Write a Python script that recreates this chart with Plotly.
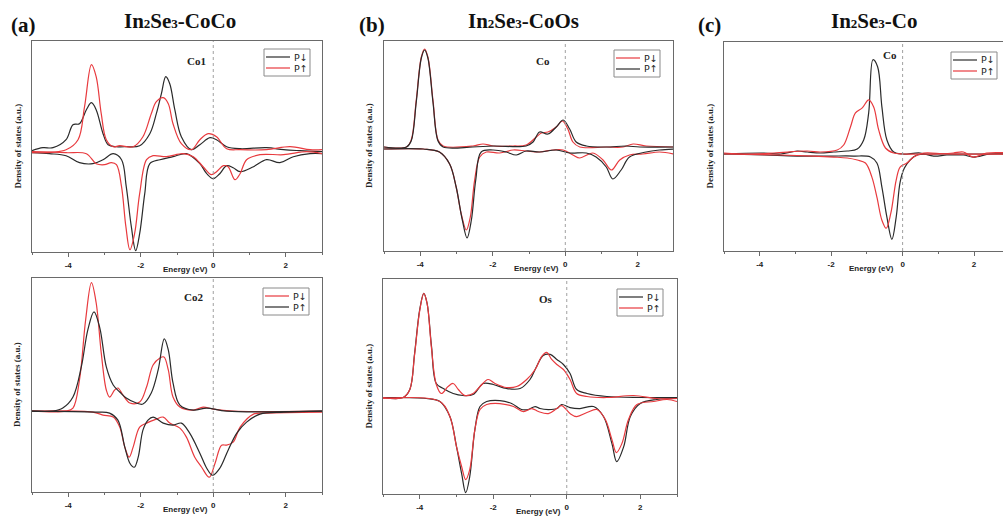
import plotly.graph_objects as go

W, H = 1003, 524

# ---------------- DATA (energy in eV, DOS in arbitrary units) ----------------
# (a) In2Se3-CoCo, Co1
co1_black_up_e = [-5.00,-4.70,-4.42,-4.06,-3.87,-3.69,-3.50,-3.36,-3.23,-3.04,-2.90,-2.67,-2.40,-2.03,-1.75,-1.57,-1.43,-1.31,-1.20,-1.06,-0.88,-0.60,-0.37,-0.09,0.09,0.37,0.74,1.47,1.94,2.40,3.00]
co1_black_up_dos = [1,4,4,12,27,28,42,49,42,18,7,5,5,6,18,38,58,75,68,42,15,2,7,14,12,5,3,4,2,1,0]
co1_red_up_e = [-5.00,-4.06,-3.73,-3.55,-3.36,-3.23,-3.09,-2.95,-2.76,-2.58,-2.21,-1.94,-1.71,-1.57,-1.38,-1.24,-1.11,-0.88,-0.60,-0.37,-0.14,0.09,0.37,0.74,1.47,2.12,2.67,3.00]
co1_red_up_dos = [-1,2,12,45,87,75,38,12,5,6,5,15,38,50,54,48,28,8,2,12,18,15,3,2,2,5,2,2]
co1_black_dn_e = [-5.00,-4.52,-4.06,-3.69,-3.32,-3.04,-2.76,-2.53,-2.40,-2.26,-2.14,-2.03,-1.89,-1.75,-1.47,-1.11,-0.74,-0.37,-0.18,0.00,0.18,0.37,0.55,0.74,1.11,1.47,1.84,2.21,2.67,3.00]
co1_black_dn_dos = [-1,-2,-4,-11,-12,-8,-2,-8,-35,-75,-99,-82,-42,-12,-8,-5,-2,-12,-22,-27,-22,-14,-16,-20,-15,-8,-11,-5,-2,-2]
co1_red_dn_e = [-5.00,-4.06,-3.50,-3.23,-3.00,-2.81,-2.67,-2.53,-2.41,-2.30,-2.17,-2.03,-1.84,-1.66,-1.29,-0.83,-0.55,-0.28,-0.05,0.09,0.28,0.41,0.60,0.74,0.92,1.29,1.94,2.58,3.00]
co1_red_dn_dos = [0,-1,-2,-12,-13,-11,-13,-35,-75,-98,-82,-42,-8,-4,-5,-2,-5,-15,-23,-20,-14,-15,-28,-22,-8,-3,-3,0,-2]

# (a) In2Se3-CoCo, Co2
co2_red_up_e = [-5.00,-4.06,-3.87,-3.69,-3.52,-3.36,-3.23,-3.09,-2.95,-2.86,-2.72,-2.63,-2.49,-2.30,-2.03,-1.84,-1.66,-1.47,-1.36,-1.24,-1.11,-0.92,-0.55,-0.28,0.00,0.55,3.00]
co2_red_up_dos = [0,0,3,31,91,128,108,58,21,14,21,23,16,8,9,24,46,53,54,41,14,4,1,4,2,0,0]
co2_black_up_e = [-5.00,-4.42,-4.15,-3.87,-3.64,-3.46,-3.29,-3.13,-2.95,-2.76,-2.58,-2.40,-2.12,-1.94,-1.71,-1.52,-1.35,-1.24,-1.11,-0.92,-0.55,-0.18,0.37,3.00]
co2_black_up_dos = [0,0,3,14,44,81,99,83,44,26,19,13,8,7,18,41,72,61,28,6,1,3,0,0]
co2_red_dn_e = [-5.00,-3.32,-3.04,-2.76,-2.58,-2.44,-2.32,-2.21,-2.03,-1.84,-1.57,-1.38,-1.20,-0.92,-0.74,-0.51,-0.32,-0.11,0.05,0.23,0.37,0.55,0.74,1.11,1.47,3.00]
co2_red_dn_dos = [0,-1,-4,-6,-16,-36,-46,-36,-16,-12,-8,-6,-12,-17,-26,-46,-56,-66,-52,-34,-34,-31,-16,-3,-2,-1]
co2_black_dn_e = [-5.00,-3.23,-2.86,-2.63,-2.44,-2.30,-2.18,-2.07,-1.94,-1.80,-1.66,-1.38,-1.11,-0.88,-0.65,-0.37,-0.18,-0.02,0.18,0.41,0.65,0.92,1.29,1.94,3.00]
co2_black_dn_dos = [0,-1,-2,-9,-36,-52,-56,-46,-19,-9,-6,-12,-14,-12,-22,-42,-57,-64,-57,-39,-22,-11,-3,-1,0]

# (b) In2Se3-CoOs, Co
cob_red_up_e = [-5.00,-4.38,-4.25,-4.11,-3.97,-3.88,-3.79,-3.65,-3.51,-3.37,-2.55,-2.27,-1.99,-1.44,-1.08,-0.80,-0.66,-0.48,-0.25,-0.08,0.07,0.21,0.40,1.13,1.59,1.87,2.23,3.00]
cob_red_up_dos = [1,1,8,48,91,99,91,48,8,2,2,4,2,2,3,11,15,16,21,27,19,6,1,1,1,4,2,1]
cob_black_up_e = [-5.00,-4.38,-4.25,-4.11,-3.97,-3.88,-3.79,-3.65,-3.51,-3.37,-2.55,-1.99,-1.08,-0.89,-0.71,-0.48,-0.25,-0.06,0.12,0.30,0.58,1.13,1.68,2.05,3.00]
cob_black_up_dos = [1,1,7,46,90,98,90,46,7,1,1,2,2,6,16,14,21,28,19,6,2,1,2,1,1]
cob_red_dn_e = [-5.00,-3.92,-3.47,-3.19,-3.01,-2.87,-2.73,-2.62,-2.50,-2.36,-2.18,-1.81,-1.44,-1.08,-0.71,-0.34,-0.06,0.21,0.40,0.76,1.04,1.27,1.50,1.77,2.14,2.60,3.00]
cob_red_dn_dos = [-1,-1,-4,-16,-39,-66,-82,-69,-32,-9,-4,-5,-2,-3,-4,-2,-2,-7,-10,-5,-12,-22,-12,-7,-6,-4,-6]
cob_black_dn_e = [-5.00,-3.92,-3.47,-3.19,-3.01,-2.84,-2.71,-2.59,-2.47,-2.32,-1.99,-1.63,-1.35,-1.08,-0.71,-0.25,0.12,0.58,0.85,1.13,1.31,1.54,1.77,2.23,2.60,3.00]
cob_black_dn_dos = [-1,-1,-4,-16,-39,-72,-90,-72,-32,-4,-2,-4,-7,-3,-4,-2,-5,-5,-9,-19,-31,-22,-9,-4,-2,-1]

# (b) In2Se3-CoOs, Os
os_black_up_e = [-5.00,-4.45,-4.27,-4.14,-4.00,-3.89,-3.80,-3.68,-3.55,-3.36,-3.09,-2.82,-2.55,-2.27,-2.00,-1.64,-1.27,-1.00,-0.82,-0.64,-0.45,-0.27,-0.09,0.09,0.27,0.55,1.09,2.00,3.00]
os_black_up_dos = [0,0,8,44,88,104,94,51,14,9,4,2,3,14,13,9,9,18,31,42,43,38,33,24,8,4,1,0,0]
os_red_up_e = [-5.00,-4.45,-4.27,-4.14,-4.00,-3.89,-3.80,-3.68,-3.55,-3.41,-3.23,-3.09,-2.95,-2.77,-2.55,-2.36,-2.14,-1.95,-1.64,-1.36,-1.09,-0.86,-0.68,-0.55,-0.41,-0.27,-0.09,0.09,0.27,0.55,1.09,1.82,2.45,3.00]
os_red_up_dos = [0,0,8,43,87,104,94,49,13,4,11,14,8,2,4,11,18,14,10,11,18,28,41,45,38,33,28,18,4,1,0,2,-1,-1]
os_black_dn_e = [-5.00,-3.82,-3.45,-3.18,-3.00,-2.86,-2.75,-2.64,-2.50,-2.36,-2.18,-1.82,-1.50,-1.23,-1.05,-0.86,-0.73,-0.50,-0.27,-0.14,0.09,0.36,0.73,1.00,1.23,1.36,1.55,1.73,2.00,2.45,3.00]
os_black_dn_dos = [0,-1,-4,-19,-49,-76,-95,-79,-32,-9,-4,-3,-6,-12,-12,-9,-11,-12,-11,-7,-10,-11,-9,-19,-46,-64,-49,-19,-6,-2,-1]
os_red_dn_e = [-5.00,-3.45,-3.18,-3.00,-2.86,-2.75,-2.64,-2.50,-2.36,-2.18,-1.82,-1.45,-1.18,-0.95,-0.77,-0.50,-0.27,-0.14,0.09,0.27,0.55,0.82,1.05,1.23,1.35,1.50,1.68,1.91,2.36,2.73,3.00]
os_red_dn_dos = [-1,-4,-19,-49,-69,-82,-72,-32,-12,-7,-6,-9,-14,-11,-14,-16,-11,-8,-16,-19,-15,-12,-22,-42,-55,-46,-22,-7,-4,-2,-4]

# (c) In2Se3-Co, Co
coc_black_up_e = [-5.00,-3.88,-3.41,-2.95,-2.67,-2.30,-1.93,-1.55,-1.27,-1.09,-0.95,-0.83,-0.70,-0.58,-0.44,-0.25,0.00,0.49,0.87,1.24,1.70,1.98,2.45,3.00]
coc_black_up_dos = [0,1,0,3,2,1,2,3,5,14,41,94,87,47,14,2,0,1,-2,-1,-1,-3,0,0]
coc_red_up_e = [-5.00,-4.34,-3.60,-2.67,-2.30,-1.83,-1.65,-1.46,-1.32,-1.13,-0.95,-0.81,-0.67,-0.48,-0.25,0.00,0.49,1.05,1.42,1.70,1.98,2.35,3.00]
coc_red_up_dos = [1,0,1,3,2,4,9,27,41,46,54,47,24,6,1,0,0,0,1,2,-3,1,1]
coc_black_dn_e = [-5.00,-3.88,-2.95,-2.02,-1.37,-0.90,-0.72,-0.58,-0.44,-0.30,-0.18,-0.07,0.05,0.21,0.40,0.77,1.24,3.00]
coc_black_dn_dos = [0,-1,-2,-2,-2,-3,-9,-33,-63,-85,-63,-28,-14,-6,-1,0,0,0]
coc_red_dn_e = [-5.00,-3.41,-2.49,-1.93,-1.55,-1.27,-1.04,-0.86,-0.72,-0.58,-0.46,-0.33,-0.18,-0.07,0.12,0.31,0.59,1.24,3.00]
coc_red_dn_dos = [0,-1,-2,-3,-4,-6,-9,-23,-43,-66,-74,-59,-26,-13,-9,-3,1,0,0]

x_tick_vals = [-4, -2, 0, 2]
x_tick_text = ["-4", "-2", "0", "2"]
minor_tick_vals = [-5, -3, -1, 1, 3]
legend_labels = ["P↓", "P↑"]

# ---------------- STYLE / LAYOUT ----------------
BLACK = "#2a2a2a"
RED = "#e83a3e"
FRAME = "#6a6a6a"
SERIF = "Liberation Serif"
SANS = "Liberation Sans"

# panel boxes in pixels: left, top, right, bottom ; legend box: right, top
panels = [
    dict(name="Co1", box=(32, 41, 322, 252), xr=[-5, 3], yr=[-100.3, 110.7],
         lab=(196, 61), leg=(310, 49),
         curves=[(BLACK, co1_black_up_e, co1_black_up_dos, co1_black_dn_e, co1_black_dn_dos),
                 (RED, co1_red_up_e, co1_red_up_dos, co1_red_dn_e, co1_red_dn_dos)]),
    dict(name="Co2", box=(32, 278, 322, 492), xr=[-5, 3], yr=[-80.7, 132.7],
         lab=(193, 297), leg=(309, 288),
         curves=[(RED, co2_red_up_e, co2_red_up_dos, co2_red_dn_e, co2_red_dn_dos),
                 (BLACK, co2_black_up_e, co2_black_up_dos, co2_black_dn_e, co2_black_dn_dos)]),
    dict(name="Co", box=(384, 41, 673, 251), xr=[-5, 2.97], yr=[-103, 107],
         lab=(543, 61), leg=(660, 50),
         curves=[(RED, cob_red_up_e, cob_red_up_dos, cob_red_dn_e, cob_red_dn_dos),
                 (BLACK, cob_black_up_e, cob_black_up_dos, cob_black_dn_e, cob_black_dn_dos)]),
    dict(name="Os", box=(383, 279, 677, 494), xr=[-5, 3], yr=[-96.3, 118.3],
         lab=(546, 299), leg=(663, 289),
         curves=[(BLACK, os_black_up_e, os_black_up_dos, os_black_dn_e, os_black_dn_dos),
                 (RED, os_red_up_e, os_red_up_dos, os_red_dn_e, os_red_dn_dos)]),
    dict(name="Co", box=(724, 42, 1003, 251), xr=[-5, 2.81], yr=[-96.7, 111.7],
         lab=(890, 55), leg=(997, 52),
         curves=[(BLACK, coc_black_up_e, coc_black_up_dos, coc_black_dn_e, coc_black_dn_dos),
                 (RED, coc_red_up_e, coc_red_up_dos, coc_red_dn_e, coc_red_dn_dos)]),
]

fig = go.Figure()
layout = dict(width=W, height=H, margin=dict(l=0, r=0, t=0, b=0),
              paper_bgcolor="white", plot_bgcolor="white", showlegend=False)
annotations = []
shapes = []


def px(x):
    return x / W


def py(y):
    return 1 - y / H


for i, p in enumerate(panels):
    k = "" if i == 0 else str(i + 1)
    l, t, r, b = p["box"]
    layout[f"xaxis{k}"] = dict(
        domain=[px(l), px(r)], range=p["xr"], anchor=f"y{k}",
        showgrid=False, zeroline=False, showline=True, mirror=True,
        linecolor=FRAME, linewidth=1,
        tickmode="array", tickvals=x_tick_vals, ticktext=x_tick_text,
        ticks="outside", ticklen=4, tickwidth=1, tickcolor=FRAME,
        minor=dict(tickmode="array", tickvals=minor_tick_vals, ticks="outside",
                   ticklen=2, tickcolor=FRAME),
        tickfont=dict(family=SANS, size=8, color="#222", weight="bold"),
        ticklabelstandoff=1,
    )
    layout[f"yaxis{k}"] = dict(
        domain=[py(b), py(t)], range=p["yr"], anchor=f"x{k}",
        showgrid=False, zeroline=False, showline=True, mirror=True,
        linecolor=FRAME, linewidth=1, showticklabels=False, ticks="",
    )
    for j, (color, ue, ud, de, dd) in enumerate(p["curves"]):
        fig.add_trace(go.Scatter(
            x=list(ue) + [None] + list(de),
            y=list(ud) + [None] + list(dd),
            mode="lines", name=legend_labels[j],
            line=dict(color=color, width=1.2, shape="spline", smoothing=1.0),
            connectgaps=False,
            xaxis=f"x{k}", yaxis=f"y{k}",
        ))
    # Fermi level
    shapes.append(dict(type="line", xref=f"x{k}", yref=f"y{k} domain",
                       x0=0, x1=0, y0=0, y1=1,
                       line=dict(color="#a0a0a0", width=1, dash="dot")))
    # legend box (compact, as in the figure)
    R, T = p["leg"]
    shapes.append(dict(type="rect", xref="paper", yref="paper",
                       x0=px(R - 46), x1=px(R), y0=py(T + 27), y1=py(T),
                       line=dict(color="#8a8a8a", width=1), fillcolor="white"))
    for j, (color, *_rest) in enumerate(p["curves"]):
        yy = T + 8 + 11 * j
        shapes.append(dict(type="line", xref="paper", yref="paper",
                           x0=px(R - 44), x1=px(R - 20), y0=py(yy), y1=py(yy),
                           line=dict(color=color, width=1.2)))
        annotations.append(dict(x=px(R - 18), y=py(yy), xref="paper", yref="paper",
                                text=legend_labels[j], showarrow=False,
                                font=dict(family="DejaVu Sans", size=9.5, color="#222"),
                                xanchor="left", yanchor="middle"))
    # atom label
    annotations.append(dict(x=px(p["lab"][0]), y=py(p["lab"][1]), xref="paper", yref="paper",
                            text=f"<b>{p['name']}</b>", showarrow=False,
                            font=dict(family=SERIF, size=11, color="#222"),
                            xanchor="center", yanchor="middle"))
    # y title
    annotations.append(dict(x=px(l - 15), y=py((t + b) / 2), xref="paper", yref="paper",
                            text="<b>Density of states (a.u.)</b>", showarrow=False,
                            textangle=-90,
                            font=dict(family=SERIF, size=9, color="#222"),
                            xanchor="center", yanchor="middle"))
    # x title
    annotations.append(dict(x=px((l + r) / 2 + 8), y=py(b + 17), xref="paper", yref="paper",
                            text="<b>Energy (eV)</b>", showarrow=False,
                            font=dict(family=SANS, size=8, color="#222"),
                            xanchor="center", yanchor="middle"))

# panel letters and titles
sub = "<span style='font-size:13px'>{}</span>"
titles = [
    ("(a)", 23, 25, "In" + sub.format("2") + "Se" + sub.format("3") + "-CoCo", 180, 21),
    ("(b)", 372, 25, "In" + sub.format("2") + "Se" + sub.format("3") + "-CoOs", 523, 21),
    ("(c)", 709, 25, "In" + sub.format("2") + "Se" + sub.format("3") + "-Co", 874, 21),
]
for letter, lx, ly, title, tx, ty in titles:
    annotations.append(dict(x=px(lx), y=py(ly), xref="paper", yref="paper",
                            text=f"<b>{letter}</b>", showarrow=False,
                            font=dict(family=SERIF, size=21, color="#111"),
                            xanchor="center", yanchor="middle"))
    annotations.append(dict(x=px(tx), y=py(ty), xref="paper", yref="paper",
                            text=f"<b>{title}</b>", showarrow=False,
                            font=dict(family=SERIF, size=21, color="#111"),
                            xanchor="center", yanchor="middle"))

layout["annotations"] = annotations
layout["shapes"] = shapes
fig.update_layout(**layout)
fig.write_html("out.html")
